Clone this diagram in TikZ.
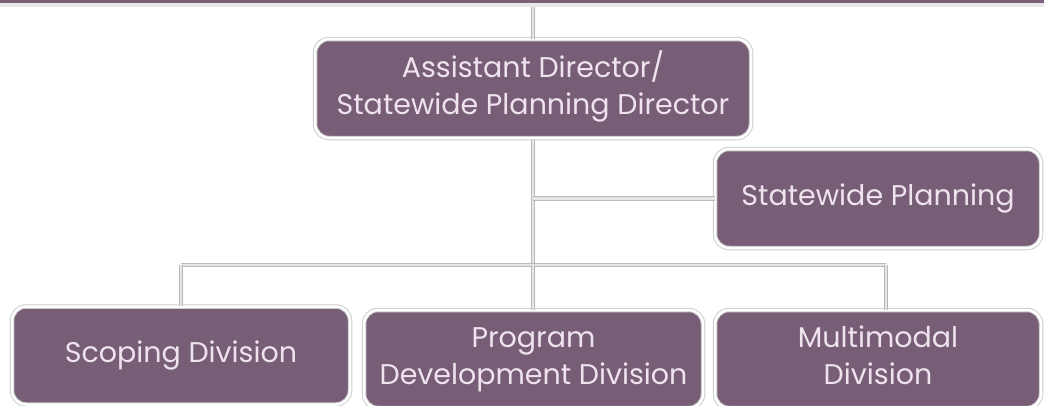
\documentclass[tikz,border=0pt]{standalone}
\usepackage{fontspec}
\setmainfont{Poppins}
\definecolor{boxpurple}{HTML}{775E76}
\definecolor{barpurple}{HTML}{7A6079}
\definecolor{txtc}{HTML}{EFE3EE}
\begin{document}
\begin{tikzpicture}[x=1pt,y=-1pt,
  orgbox/.style={fill=boxpurple, draw=gray!40, line width=1pt, double=white, double distance=2.5pt,
    rounded corners=14pt, text=txtc, align=center, inner sep=0pt,
    font=\fontsize{28.5}{37}\selectfont},
  link/.style={draw=gray!55, line width=0.9pt, double=gray!20, double distance=2.6pt}]
\useasboundingbox (0,0) rectangle (1044,405);
\fill[barpurple] (0,0) rectangle (1044,3);
\fill[gray!18] (0,3) rectangle (1044,7);
\node[orgbox, minimum width=436pt, minimum height=99pt] (top) at (533,88.5) {\strut Assistant Director/\\Statewide Planning Director\strut};
\node[orgbox, minimum width=326pt, minimum height=99pt] (sp) at (878,198.5) {\strut Statewide Planning};
\node[orgbox, minimum width=338pt, minimum height=98pt] (sc) at (181,355.5) {\strut Scoping Division};
\node[orgbox, minimum width=339pt, minimum height=98pt] (pd) at (533.5,359) {\strut Program\\Development Division\strut};
\node[orgbox, minimum width=326pt, minimum height=98pt] (mm) at (878,359) {\strut Multimodal\\Division\strut};
\coordinate (topin) at (533,7);
\coordinate (busL) at (181,265);
\coordinate (busM) at (533,265);
\coordinate (busR) at (886,265);
\draw[link] (topin) -- (top.north);
\draw[link] (top.south) -- (busM);
\draw[link] (top.south |- sp.west) -- (sp.west);
\draw[link] (busL) -- (busR);
\draw[link] (busL) -- (busL |- sc.north);
\draw[link] (busM) -- (busM |- pd.north);
\draw[link] (busR) -- (busR |- mm.north);
\end{tikzpicture}
\end{document}
